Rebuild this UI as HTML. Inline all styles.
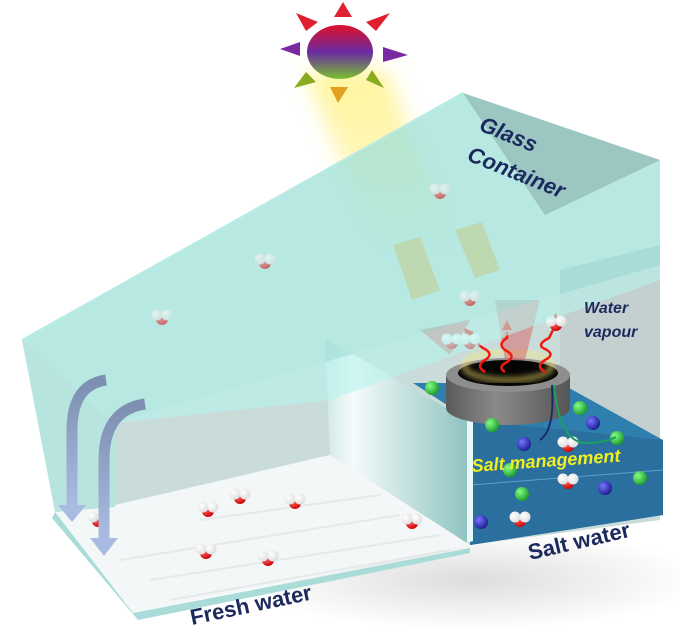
<!DOCTYPE html>
<html><head><meta charset="utf-8"><style>
html,body{margin:0;padding:0;background:#fff}
svg{display:block}
text{font-family:"Liberation Sans",sans-serif;font-weight:bold;font-style:italic;fill:#1b2a5c}
</style></head><body>
<svg width="680" height="630" viewBox="0 0 680 630" xmlns="http://www.w3.org/2000/svg">
<defs>
<linearGradient id="sun" x1="0" y1="0" x2="0" y2="1">
<stop offset="0" stop-color="#e0102a"/><stop offset="0.5" stop-color="#6a2aa0"/><stop offset="1" stop-color="#7ac030"/></linearGradient>
<linearGradient id="beam" x1="0" y1="0" x2="0" y2="1">
<stop offset="0" stop-color="#fff49a" stop-opacity="1"/><stop offset="0.6" stop-color="#fff49a" stop-opacity="0.6"/><stop offset="1" stop-color="#fff49a" stop-opacity="0"/></linearGradient>
<filter id="blur" x="-30%" y="-30%" width="160%" height="160%"><feGaussianBlur stdDeviation="10"/></filter>
<filter id="blur2"><feGaussianBlur stdDeviation="3"/></filter>
<radialGradient id="shadow" cx="0.5" cy="0.5" r="0.5"><stop offset="0" stop-color="#ddd"/><stop offset="1" stop-color="#fff"/></radialGradient>
<linearGradient id="div" x1="0" y1="0" x2="1" y2="0"><stop offset="0" stop-color="#cfe8e6"/><stop offset="0.2" stop-color="#f4fbfa"/><stop offset="1" stop-color="#8fc4c2"/></linearGradient>
<linearGradient id="arr" x1="0" y1="0" x2="0" y2="1"><stop offset="0" stop-color="#7d8fb0"/><stop offset="1" stop-color="#a9bbe0"/></linearGradient>
<radialGradient id="ball" cx="0.35" cy="0.35" r="0.7"><stop offset="0" stop-color="#fff"/><stop offset="1" stop-color="#ddd"/></radialGradient>
<radialGradient id="red" cx="0.35" cy="0.35" r="0.7"><stop offset="0" stop-color="#ff6a6a"/><stop offset="1" stop-color="#c00"/></radialGradient>
<radialGradient id="grn" cx="0.35" cy="0.35" r="0.7"><stop offset="0" stop-color="#8f8"/><stop offset="1" stop-color="#1a9a2a"/></radialGradient>
<radialGradient id="blu" cx="0.35" cy="0.35" r="0.7"><stop offset="0" stop-color="#77f"/><stop offset="1" stop-color="#1a1a90"/></radialGradient>
<linearGradient id="cyl" x1="0" y1="0" x2="1" y2="0"><stop offset="0" stop-color="#5a5a5a"/><stop offset="0.4" stop-color="#8a8a8a"/><stop offset="1" stop-color="#555"/></linearGradient>
<g id="w"><circle cx="0" cy="3" r="6" fill="url(#red)"/><circle cx="-5" cy="-1" r="5.5" fill="url(#ball)"/><circle cx="5" cy="-1" r="5.5" fill="url(#ball)"/></g>
<g id="g"><circle r="7" fill="url(#grn)"/></g>
<g id="b"><circle r="7" fill="url(#blu)"/></g>
</defs>
<ellipse cx="470" cy="580" rx="230" ry="50" fill="url(#shadow)"/>
<!-- back walls -->
<polygon points="115,423 660,265 660,520 470,545 330,455 115,507" fill="#c9dcda"/>
<polygon points="560,270 660,245 660,445 560,400" fill="#c3d0cf"/>
<!-- beam -->
<polygon points="305,70 385,70 460,250 380,260" fill="url(#beam)" filter="url(#blur)"/>
<!-- floor -->
<polygon points="55,512 115,505 330,455 470,545 133,613" fill="#f4f7f7"/>
<g stroke="#e2e6e6" stroke-width="2" opacity="0.8">
<line x1="150" y1="580" x2="440" y2="535"/><line x1="120" y1="560" x2="400" y2="515"/><line x1="170" y1="600" x2="450" y2="550"/><line x1="200" y1="520" x2="380" y2="495"/></g>
<polygon points="55,512 133,613 138,620 52,518" fill="#a9dcd8"/>
<polygon points="133,613 470,548 470,553 138,620" fill="#a9dcd8"/>
<!-- salt water -->
<polygon points="413,383 560,383 663,440 663,515 470,545 470,420" fill="#2f7fae"/>
<polygon points="470,420 663,440 663,515 470,545" fill="#2a6f9e"/>
<line x1="470" y1="485" x2="663" y2="470" stroke="#5a9fcb" stroke-width="1"/>
<!-- divider -->
<polygon points="325,338 467,420 467,543 330,455" fill="url(#div)"/>
<polygon points="467,420 473,418 473,541 467,543" fill="#e8f8f6"/>
<!-- cylinder -->
<path d="M446,375 L446,408 A62,17 0 0 0 570,408 L570,375 Z" fill="url(#cyl)"/>
<ellipse cx="508" cy="375" rx="62" ry="17" fill="#8e8e8e"/>
<ellipse cx="508" cy="373" rx="50" ry="13" fill="#050505"/>
<ellipse cx="508" cy="366" rx="44" ry="14" fill="none" stroke="#ffe86a" stroke-width="5" opacity="0.6" filter="url(#blur2)"/>
<!-- vapour red plumes -->
<polygon points="420,330 470,320 450,355" fill="#d96060" opacity="0.7"/>
<polygon points="495,300 540,300 525,360 505,360" fill="#d96060" opacity="0.5"/>
<g fill="none" stroke="#f01a10" stroke-width="2.5">
<path d="M485,372 q-10,-6 0,-12 q10,-6 -2,-12 q-8,-5 -6,-10 l-8,-6"/>
<path d="M505,372 q-8,-5 2,-10 q10,-6 -2,-12 q-8,-6 2,-12 l0,-6"/>
<path d="M545,372 q-10,-6 0,-12 q12,-6 -2,-12 q-6,-4 6,-10 l4,-8"/>
</g>
<g fill="#f01a10"><polygon points="464,328 474,332 466,338"/><polygon points="507,320 512,330 502,330"/><polygon points="556,313 559,323 550,320"/></g>
<!-- molecules salt -->
<use href="#w" x="452" y="340"/><use href="#w" x="470" y="340"/>
<use href="#w" x="556" y="322"/>
<use href="#g" x="432" y="388"/><use href="#g" x="492" y="425"/><use href="#g" x="580" y="408"/><use href="#b" x="593" y="423"/>
<use href="#b" x="524" y="444"/><use href="#w" x="568" y="443"/><use href="#g" x="617" y="438"/>
<use href="#g" x="510" y="470"/><use href="#w" x="568" y="480"/><use href="#b" x="605" y="488"/><use href="#g" x="640" y="478"/>
<use href="#g" x="522" y="494"/><use href="#b" x="481" y="522"/><use href="#w" x="520" y="518"/>
<path d="M552,385 q3,45 -12,55" stroke="#1a2a6a" stroke-width="2" fill="none"/>
<path d="M554,385 q5,55 30,58 q20,0 32,-6" stroke="#1aa060" stroke-width="2" fill="none"/>
<!-- fresh molecules -->
<use href="#w" x="240" y="495"/><use href="#w" x="208" y="508"/><use href="#w" x="295" y="500"/><use href="#w" x="412" y="520"/><use href="#w" x="206" y="550"/><use href="#w" x="268" y="557"/><use href="#w" x="98" y="518"/>
<!-- roof glass -->
<polygon points="22,340 463,93 660,160 660,265 115,423" fill="#9fe0d8" opacity="0.75"/>
<polygon points="463,93 660,160 545,215" fill="#8fb8b4" opacity="0.7"/>
<polygon points="22,340 115,423 115,507 55,512" fill="#a6ddd8" opacity="0.8"/>
<polygon points="115,423 660,265 660,280 330,400" fill="#b8f4ee" opacity="0.6"/>
<line x1="22" y1="340" x2="463" y2="93" stroke="#b9ece6" stroke-width="2"/>
<!-- beam squares -->
<polygon points="393,245 420,237 440,290 412,300" fill="#c8c878" opacity="0.45"/>
<polygon points="455,230 482,222 500,270 475,278" fill="#c8c878" opacity="0.45"/>
<!-- vapor molecules in air -->
<g opacity="0.55"><use href="#w" x="162" y="316"/><use href="#w" x="265" y="260"/><use href="#w" x="440" y="190"/><use href="#w" x="470" y="297"/></g>
<!-- arrows -->
<path d="M106,380 Q72,385 72,430 L72,505" stroke="url(#arr)" stroke-width="11" fill="none"/>
<polygon points="58,505 86,505 72,522" fill="#a9bbe0"/>
<path d="M145,404 Q104,410 104,460 L104,538" stroke="url(#arr)" stroke-width="11" fill="none"/>
<polygon points="90,538 118,538 104,556" fill="#a9bbe0"/>
<!-- sun -->
<ellipse cx="340" cy="52" rx="33" ry="27" fill="url(#sun)"/>
<g>
<polygon points="343,2 352,17 334,17" fill="#e02030"/>
<polygon points="296,13 318,22 306,31" fill="#e02030"/>
<polygon points="390,13 366,22 376,31" fill="#e02030"/>
<polygon points="280,49 300,42 300,56" fill="#7a2aa0"/>
<polygon points="408,55 383,47 383,62" fill="#7a2aa0"/>
<polygon points="294,88 306,72 316,82" fill="#8aaa20"/>
<polygon points="384,88 366,80 372,70" fill="#8aaa20"/>
<polygon points="338,103 330,87 348,87" fill="#e0a020"/>
</g>
<!-- labels -->
<text transform="translate(478,130) rotate(22)" font-size="22">Glass</text>
<text transform="translate(466,160) rotate(22)" font-size="22">Container</text>
<text x="584" y="313" font-size="16">Water</text>
<text x="584" y="337" font-size="16">vapour</text>
<text transform="translate(472,472) rotate(-4)" font-size="18" style="fill:#f0f020">Salt management</text>
<text transform="translate(530,560) rotate(-13)" font-size="22" style="font-style:normal">Salt water</text>
<text transform="translate(192,625) rotate(-12)" font-size="22" style="font-style:normal">Fresh water</text>
</svg>
</body></html>
